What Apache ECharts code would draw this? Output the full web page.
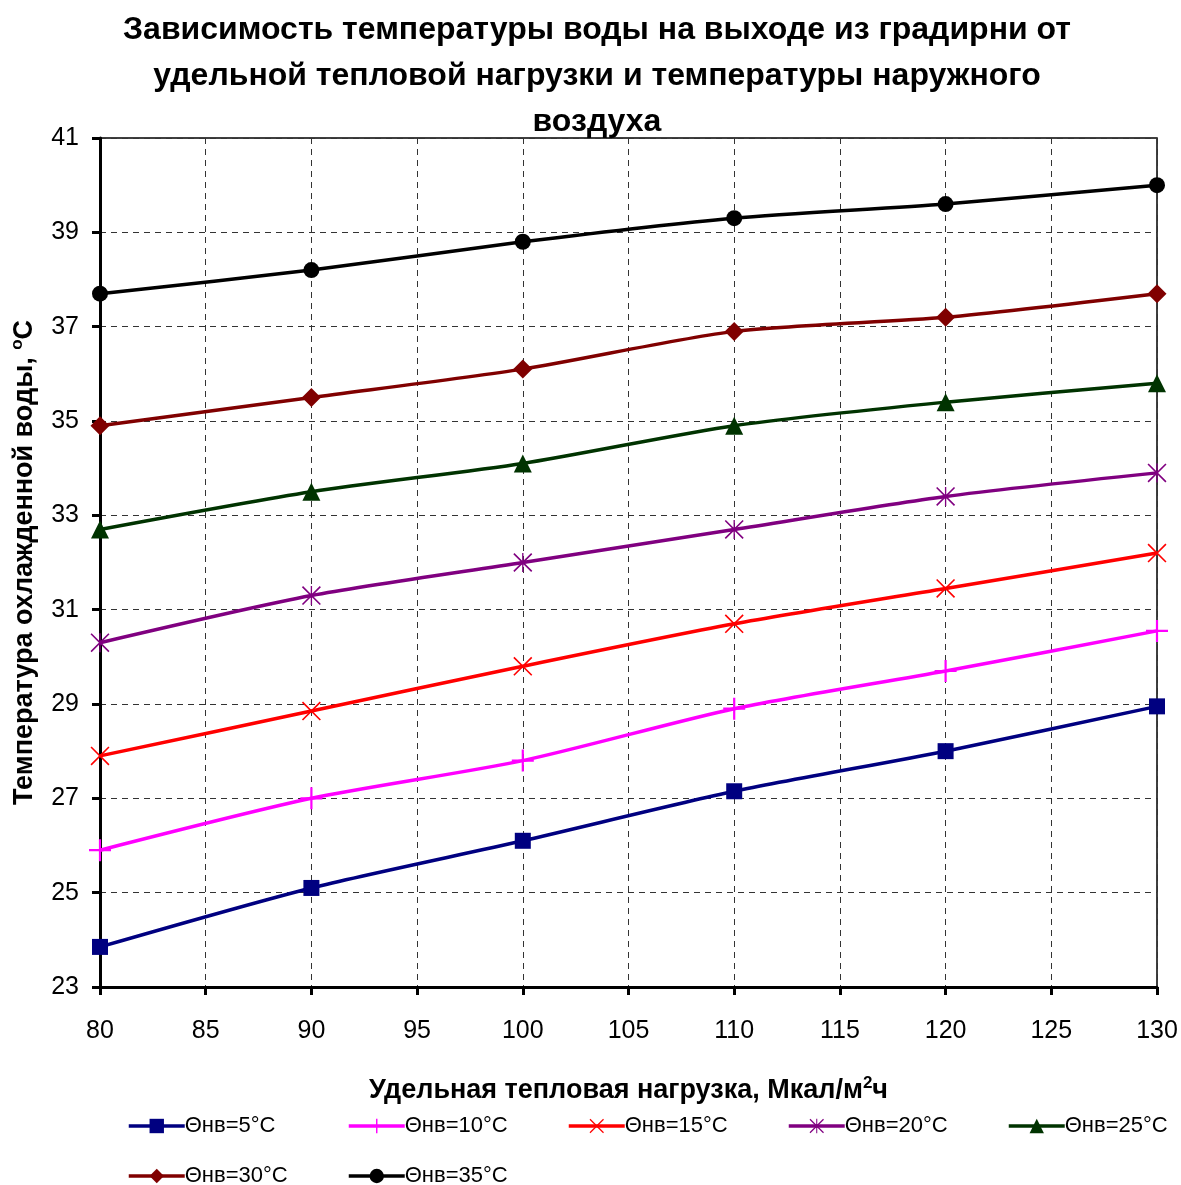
<!DOCTYPE html>
<html lang="ru">

<head>
    <meta http-equiv="Content-Type" content="text/html;charset=UTF-8">
    <title>
        градирня
    </title>
    <script src="https://cdn.jsdelivr.net/npm/echarts@6/dist/echarts.min.js"></script>
    <style type="text/css">
        body {
            margin: 0;
            background: #fff;
        }

        #main {
            height: 1185px;
            width: 1181px;
        }
    </style>
</head>

<body>
    <div id="main"></div>
</body>
<script>
    // удельная тепловая нагрузка, Мкал/м2ч
    var loads = [80, 90, 100, 110, 120, 130];

    // температура охлажденной воды при разной температуре наружного воздуха
    var t5 = [23.85, 25.1, 26.1, 27.15, 28.0, 28.95];
    var t10 = [25.9, 27.0, 27.8, 28.9, 29.7, 30.55];
    var t15 = [27.9, 28.85, 29.8, 30.7, 31.45, 32.2];
    var t20 = [30.3, 31.3, 32.0, 32.7, 33.4, 33.9];
    var t25 = [32.7, 33.5, 34.1, 34.9, 35.4, 35.8];
    var t30 = [34.9, 35.5, 36.1, 36.9, 37.2, 37.7];
    var t35 = [37.7, 38.2, 38.8, 39.3, 39.6, 40.0];

    var names = ['Θнв=5°С', 'Θнв=10°С', 'Θнв=15°С', 'Θнв=20°С', 'Θнв=25°С', 'Θнв=30°С', 'Θнв=35°С'];

    var font = "'Liberation Sans', Arial, sans-serif";

    var plusPath = 'path://M9,0 L11,0 L11,20 L9,20 Z M0,9 L20,9 L20,11 L0,11 Z';
    var crossPath = 'path://M0,1.2 L1.2,0 L20,18.8 L18.8,20 Z M18.8,0 L20,1.2 L1.2,20 L0,18.8 Z';
    var starPath = 'path://M0,1.2 L1.2,0 L20,18.8 L18.8,20 Z M18.8,0 L20,1.2 L1.2,20 L0,18.8 Z M9.3,0 L10.7,0 L10.7,20 L9.3,20 Z';

    function pairs(ys) {
        var res = [];
        for (var i = 0; i < loads.length; i++) {
            res.push([loads[i], ys[i]]);
        }
        return res;
    }

    function makeSeries(name, ys, color, symbol, size) {
        return {
            name: name,
            type: 'line',
            data: pairs(ys),
            smooth: 0.25,
            symbol: symbol,
            symbolSize: size,
            showAllSymbol: true,
            lineStyle: {
                color: color,
                width: 3.5
            },
            itemStyle: {
                color: color
            },
            emphasis: {
                disabled: true
            }
        };
    }

    // легенда в две строки, колонки фиксированной ширины
    var legendPos = [
        [122, 1110], [342, 1110], [562, 1110], [782, 1110], [1002, 1110],
        [122, 1160], [342, 1160]
    ];
    var legends = [];
    for (var i = 0; i < names.length; i++) {
        legends.push({
            data: [names[i]],
            left: legendPos[i][0],
            top: legendPos[i][1],
            itemWidth: 56,
            itemHeight: 18,
            itemGap: 4,
            lineStyle: {
                width: 3.5
            },
            textStyle: {
                fontFamily: font,
                fontSize: 22,
                color: '#000',
                padding: [0, 0, 0, -5]
            }
        });
    }

    option = {
        backgroundColor: '#fff',
        animation: false,
        title: {
            text: 'Зависимость температуры воды на выходе из градирни от\nудельной тепловой нагрузки и температуры наружного\nвоздуха',
            left: 592,
            top: 2,
            textAlign: 'center',
            textStyle: {
                fontFamily: font,
                fontSize: 32,
                fontWeight: 'bold',
                lineHeight: 46,
                color: '#000'
            }
        },
        legend: legends,
        grid: {
            left: 100,
            right: 24,
            top: 138,
            bottom: 198,
            show: true,
            borderColor: '#000',
            borderWidth: 1.5,
            containLabel: false,
            outerBoundsMode: 'none'
        },
        xAxis: {
            type: 'value',
            min: 80,
            max: 130,
            interval: 5,
            name: 'Удельная тепловая нагрузка, Мкал/м{sup|2}ч',
            nameLocation: 'middle',
            nameGap: 88,
            nameTextStyle: {
                fontFamily: font,
                fontSize: 27,
                fontWeight: 'bold',
                color: '#000',
                rich: {
                    sup: {
                        fontFamily: font,
                        fontSize: 17,
                        fontWeight: 'bold',
                        color: '#000',
                        verticalAlign: 'top',
                        padding: [0, 0, 14, 0]
                    }
                }
            },
            axisLine: {
                show: true,
                lineStyle: { color: '#000', width: 3 }
            },
            axisTick: {
                show: true,
                length: 8,
                lineStyle: { color: '#000', width: 3 }
            },
            axisLabel: {
                fontFamily: font,
                fontSize: 25,
                color: '#000',
                margin: 32
            },
            splitLine: {
                show: true,
                lineStyle: { color: '#333', type: [6, 5], width: 1 }
            }
        },
        yAxis: {
            type: 'value',
            min: 23,
            max: 41,
            interval: 2,
            name: 'Температура охлажденной воды, {sup|o}С',
            nameLocation: 'middle',
            nameRotate: 90,
            nameGap: 60,
            nameTextStyle: {
                fontFamily: font,
                fontSize: 27,
                fontWeight: 'bold',
                color: '#000',
                rich: {
                    sup: {
                        fontFamily: font,
                        fontSize: 17,
                        fontWeight: 'bold',
                        color: '#000',
                        verticalAlign: 'top',
                        padding: [0, 0, 14, 0]
                    }
                }
            },
            axisLine: {
                show: true,
                lineStyle: { color: '#000', width: 3 }
            },
            axisTick: {
                show: true,
                length: 8,
                lineStyle: { color: '#000', width: 3 }
            },
            axisLabel: {
                fontFamily: font,
                fontSize: 25,
                color: '#000',
                margin: 21
            },
            splitLine: {
                show: true,
                lineStyle: { color: '#333', type: [6, 5], width: 1 }
            }
        },
        series: [
            makeSeries(names[0], t5, '#000080', 'rect', 16),
            makeSeries(names[1], t10, '#ff00ff', plusPath, 22),
            makeSeries(names[2], t15, '#ff0000', crossPath, 19),
            makeSeries(names[3], t20, '#800080', starPath, 19),
            makeSeries(names[4], t25, '#003300', 'triangle', 18),
            makeSeries(names[5], t30, '#800000', 'diamond', 19),
            makeSeries(names[6], t35, '#000000', 'circle', 16)
        ]
    };
    var myChart = echarts.init(document.getElementById('main'));

    myChart.setOption(option);
</script>

</html>
